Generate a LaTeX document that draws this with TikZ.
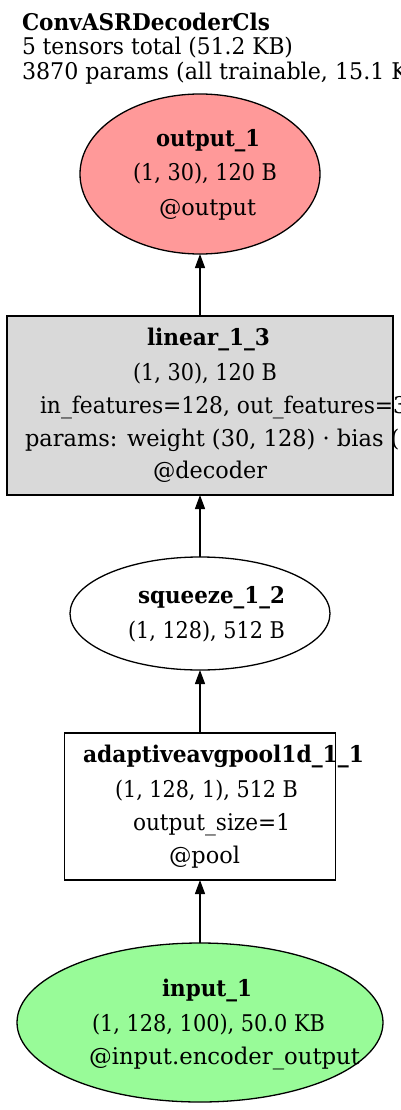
\documentclass[tikz,border=0pt]{standalone}
\usepackage{fontspec}
\usepackage{graphicx}
\setmainfont{DejaVu Serif}
\usetikzlibrary{arrows.meta,shapes.geometric}
\definecolor{outred}{HTML}{FF9999}
\definecolor{ingreen}{HTML}{98FB98}
\definecolor{opgray}{HTML}{D9D9D9}
\newcommand{\fitw}[2]{\resizebox{#1pt}{\height}{#2}}
\tikzset{
  shapeline/.style={draw=black, line width=1.3pt, inner sep=0pt, outer sep=0pt},
  ell/.style={shapeline, ellipse},
  box/.style={shapeline, rectangle},
  txt/.style={anchor=base west, inner sep=0pt, outer sep=0pt, font=\fontsize{23}{28}\selectfont},
  btxt/.style={txt, font=\fontsize{23}{28}\selectfont\bfseries},
  arr/.style={line width=1.3pt, -{Triangle[length=14pt,width=10pt]}},
}
\begin{document}
\begin{tikzpicture}[x=1pt,y=-1pt]
\useasboundingbox (0,0) rectangle (400,1110);
% title
\node[btxt] (t1) at (22,30.7) {\fitw{248}{ConvASRDecoderCls}};
\node[txt] (t2) at (22,55) {\fitw{271}{5 tensors total (51.2 KB)}};
\node[txt] (t3) at (22,80) {\fitw{411}{3870 params (all trainable, 15.1 KB)}};
% output
\node[ell, fill=outred, minimum width=240pt, minimum height=160pt] (out) at (200,174) {};
\node[btxt] (o1) at (156,147) {\fitw{104}{output\_1}};
\node[txt] (o2) at (133,181) {\fitw{144}{(1, 30), 120 B}};
\node[txt] (o3) at (159,215) {\fitw{97}{@output}};
% linear
\node[box, fill=opgray, minimum width=386pt, minimum height=179pt] (lin) at (200,405.5) {};
\node[btxt] (l1) at (147,345.7) {\fitw{123}{linear\_1\_3}};
\node[txt] (l2) at (133,380) {\fitw{144}{(1, 30), 120 B}};
\node[txt] (l3) at (40,413) {\fitw{381}{in\_features=128, out\_features=30}};
\node[txt] (l4) at (25,446.7) {\fitw{412}{params: weight (30, 128) · bias (30)}};
\node[txt] (l5) at (153,478) {\fitw{114}{@decoder}};
% squeeze
\node[ell, fill=white, minimum width=260pt, minimum height=113pt] (sq) at (200,613.5) {};
\node[btxt] (s1) at (138,603) {\fitw{147}{squeeze\_1\_2}};
\node[txt] (s2) at (128,638) {\fitw{157}{(1, 128), 512 B}};
% pool
\node[box, fill=white, minimum width=271pt, minimum height=147pt] (pool) at (200,806.5) {};
\node[btxt] (p1) at (83,762) {\fitw{281}{adaptiveavgpool1d\_1\_1}};
\node[txt] (p2) at (115,797) {\fitw{183}{(1, 128, 1), 512 B}};
\node[txt] (p3) at (133,830) {\fitw{157}{output\_size=1}};
\node[txt] (p4) at (169,863) {\fitw{71}{@pool}};
% input
\node[ell, fill=ingreen, minimum width=366pt, minimum height=159pt] (inp) at (200,1022.5) {};
\node[btxt] (i1) at (162,996) {\fitw{90}{input\_1}};
\node[txt] (i2) at (92,1031) {\fitw{233}{(1, 128, 100), 50.0 KB}};
\node[txt] (i3) at (89,1064) {\fitw{271}{@input.encoder\_output}};
% edges
\draw[arr] (inp.north) -- (pool.south);
\draw[arr] (pool.north) -- (sq.south);
\draw[arr] (sq.north) -- (lin.south);
\draw[arr] (lin.north) -- (out.south);
\end{tikzpicture}
\end{document}
